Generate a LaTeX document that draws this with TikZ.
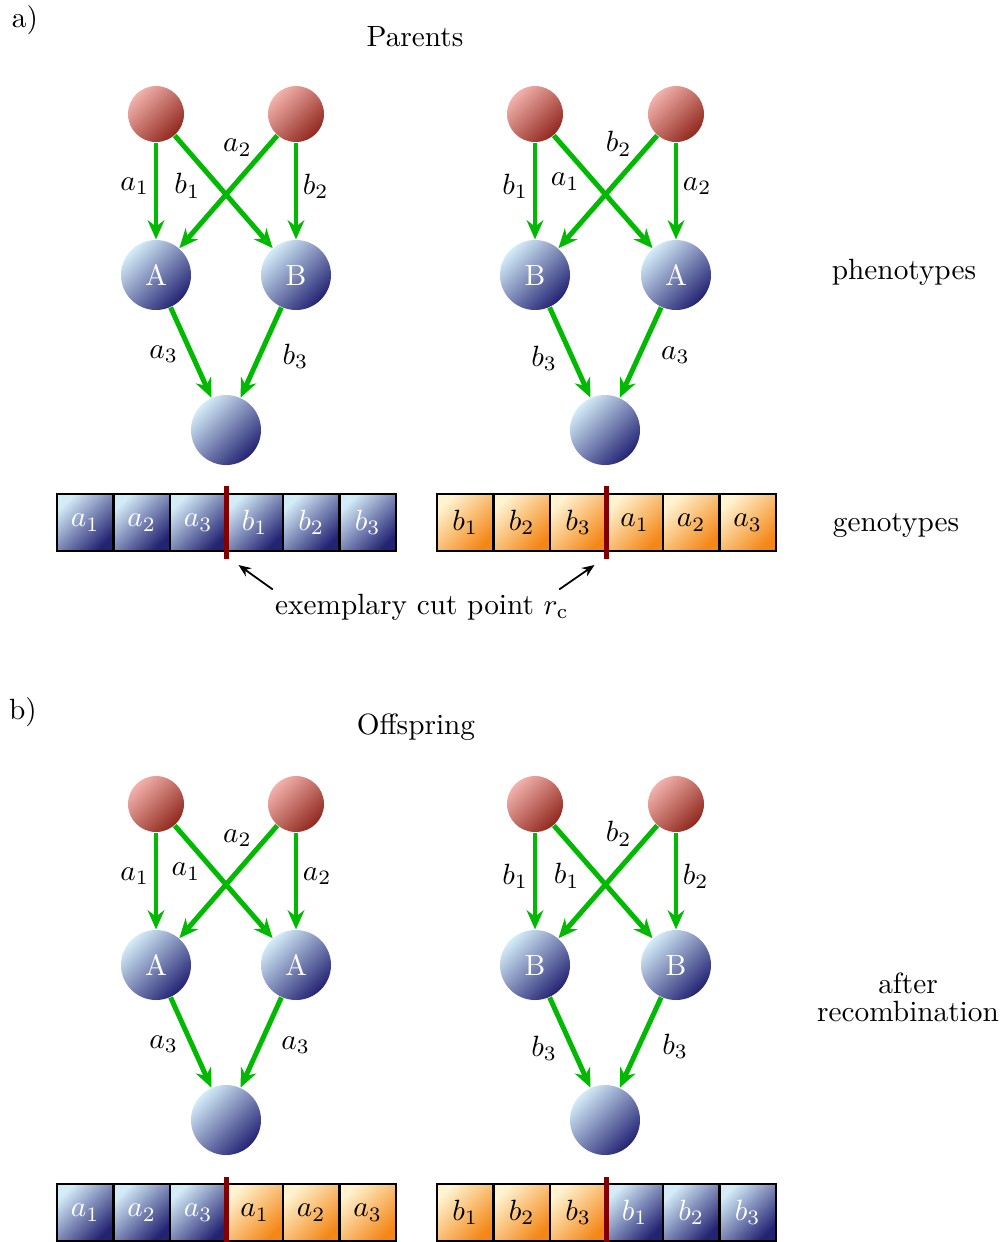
\documentclass[tikz,border=0pt]{standalone}
\usepackage{amsmath,amssymb}
\usetikzlibrary{arrows.meta,positioning}

\definecolor{balllight}{RGB}{212,236,248}
\definecolor{balldark}{RGB}{35,35,115}
\definecolor{redlight}{RGB}{242,178,172}
\definecolor{reddark}{RGB}{145,40,30}
\definecolor{orlight}{RGB}{255,243,208}
\definecolor{ordark}{RGB}{244,135,22}
\definecolor{edgegreen}{RGB}{0,185,0}
\definecolor{cutred}{RGB}{130,0,0}

\tikzset{
  root/.style={circle, minimum size=0.672cm, inner sep=0pt,
    top color=redlight, bottom color=reddark, shading angle=45},
  pheno/.style={circle, minimum size=0.84cm, inner sep=0pt,
    top color=balllight, bottom color=balldark, shading angle=45, text=white},
  gene/.style={draw=edgegreen, line width=1.7pt, -{Stealth[length=2.3mm,width=2mm]}},
  vlab/.style={inner sep=1.5pt},
  xlab/.style={inner sep=0.5pt},
  cell/.style={draw, line width=0.8pt, outer sep=0pt, inner sep=0pt,
    minimum width=0.678cm, minimum height=0.684cm},
  bcell/.style={cell, top color=balllight, bottom color=balldark, shading angle=45, text=white},
  ocell/.style={cell, top color=orlight, bottom color=ordark, shading angle=45},
  cutline/.style={draw=cutred, line width=1.4pt},
  pointer/.style={draw=black, line width=0.6pt, -{Stealth[length=1.5mm,width=1.2mm]}}
}

\begin{document}
\begin{tikzpicture}[auto, x=0.12cm, y=-0.12cm]
    \useasboundingbox (0, 0) rectangle (100.5, 124.2);

    % a) parents
    \node (tag) at (2.5, 2.0) {a)};
    \node (title) at (41.5, 3.7) {Parents};
    \node (ph) at (90.4, 27.2) {phenotypes};
    \node (gt) at (89.6, 52.5) {genotypes};

    \node [root] (r1) at (15.6, 11.4) {};
    \node [root] (r2) at (29.6, 11.4) {};
    \node [pheno] (m1) at (15.6, 27.5) {A};
    \node [pheno] (m2) at (29.6, 27.5) {B};
    \node [pheno] (c) at (22.6, 43.0) {};
    \draw [gene] (r1) to node [vlab, swap, pos=0.45] {$a_1$} (m1);
    \draw [gene] (r1) to node [xlab, swap, pos=0.3] {$b_1$} (m2);
    \draw [gene] (r2) to node [xlab, swap, pos=0.22] {$a_2$} (m1);
    \draw [gene] (r2) to node [vlab, pos=0.45] {$b_2$} (m2);
    \draw [gene] (m1) to node [vlab, swap, pos=0.35] {$a_3$} (c);
    \draw [gene] (m2) to node [pos=0.27] {$b_3$} (c);

    \node [root] (r1) at (53.5, 11.4) {};
    \node [root] (r2) at (67.6, 11.4) {};
    \node [pheno] (m1) at (53.5, 27.5) {B};
    \node [pheno] (m2) at (67.6, 27.5) {A};
    \node [pheno] (c) at (60.5, 43.0) {};
    \draw [gene] (r1) to node [vlab, swap, pos=0.45] {$b_1$} (m1);
    \draw [gene] (r1) to node [xlab, swap, pos=0.3] {$a_1$} (m2);
    \draw [gene] (r2) to node [xlab, swap, pos=0.22] {$b_2$} (m1);
    \draw [gene] (r2) to node [vlab, pos=0.45] {$a_2$} (m2);
    \draw [gene] (m1) to node [vlab, swap, pos=0.35] {$b_3$} (c);
    \draw [gene] (m2) to node [pos=0.3] {$a_3$} (c);

    \node [bcell] (g1) at (8.525, 52.25) {$a_1$};
    \node [bcell, right=0pt of g1] (g2) {$a_2$};
    \node [bcell, right=0pt of g2] (g3) {$a_3$};
    \node [bcell, right=0pt of g3] (g4) {$b_1$};
    \node [bcell, right=0pt of g4] (g5) {$b_2$};
    \node [bcell, right=0pt of g5] (g6) {$b_3$};
    \draw [cutline] ([yshift=1mm]g3.north east) -- ([yshift=-0.9mm]g3.south east);
    \coordinate (ptA) at ([shift={(1.2, 1.4)}]g3.south east);

    \node [ocell] (g1) at (46.525, 52.25) {$b_1$};
    \node [ocell, right=0pt of g1] (g2) {$b_2$};
    \node [ocell, right=0pt of g2] (g3) {$b_3$};
    \node [ocell, right=0pt of g3] (g4) {$a_1$};
    \node [ocell, right=0pt of g4] (g5) {$a_2$};
    \node [ocell, right=0pt of g5] (g6) {$a_3$};
    \draw [cutline] ([yshift=1mm]g3.north east) -- ([yshift=-0.9mm]g3.south east);
    \coordinate (ptB) at ([shift={(-1.2, 1.4)}]g3.south east);

    \node (cut) at (42.2, 60.7) {exemplary cut point $r_{\mathrm{c}}$};
    \draw [pointer] ([shift={(0.8, 0.6)}]cut.north west) -- (ptA);
    \draw [pointer] ([shift={(-2.0, 0.6)}]cut.north east) -- (ptB);

    % b) offspring
    \node (tag) at (2.3, 71.2) {b)};
    \node (title) at (41.6, 72.7) {Offspring};
    \node [align=center] (rec) at (90.8, 99.7) {after\\[-2.4pt]recombination};

    \node [root] (r1) at (15.6, 80.4) {};
    \node [root] (r2) at (29.6, 80.4) {};
    \node [pheno] (m1) at (15.6, 96.5) {A};
    \node [pheno] (m2) at (29.6, 96.5) {A};
    \node [pheno] (c) at (22.6, 112.0) {};
    \draw [gene] (r1) to node [vlab, swap, pos=0.45] {$a_1$} (m1);
    \draw [gene] (r1) to node [xlab, swap, pos=0.3] {$a_1$} (m2);
    \draw [gene] (r2) to node [xlab, swap, pos=0.22] {$a_2$} (m1);
    \draw [gene] (r2) to node [vlab, pos=0.45] {$a_2$} (m2);
    \draw [gene] (m1) to node [vlab, swap, pos=0.35] {$a_3$} (c);
    \draw [gene] (m2) to node [pos=0.3] {$a_3$} (c);

    \node [root] (r1) at (53.5, 80.4) {};
    \node [root] (r2) at (67.6, 80.4) {};
    \node [pheno] (m1) at (53.5, 96.5) {B};
    \node [pheno] (m2) at (67.6, 96.5) {B};
    \node [pheno] (c) at (60.5, 112.0) {};
    \draw [gene] (r1) to node [vlab, swap, pos=0.45] {$b_1$} (m1);
    \draw [gene] (r1) to node [xlab, swap, pos=0.3] {$b_1$} (m2);
    \draw [gene] (r2) to node [xlab, swap, pos=0.22] {$b_2$} (m1);
    \draw [gene] (r2) to node [vlab, pos=0.45] {$b_2$} (m2);
    \draw [gene] (m1) to node [vlab, swap, pos=0.35] {$b_3$} (c);
    \draw [gene] (m2) to node [pos=0.27] {$b_3$} (c);

    \node [bcell] (g1) at (8.525, 121.25) {$a_1$};
    \node [bcell, right=0pt of g1] (g2) {$a_2$};
    \node [bcell, right=0pt of g2] (g3) {$a_3$};
    \node [ocell, right=0pt of g3] (g4) {$a_1$};
    \node [ocell, right=0pt of g4] (g5) {$a_2$};
    \node [ocell, right=0pt of g5] (g6) {$a_3$};
    \draw [cutline] ([yshift=0.8mm]g3.north east) -- ([yshift=-0.9mm]g3.south east);

    \node [ocell] (g1) at (46.525, 121.25) {$b_1$};
    \node [ocell, right=0pt of g1] (g2) {$b_2$};
    \node [ocell, right=0pt of g2] (g3) {$b_3$};
    \node [bcell, right=0pt of g3] (g4) {$b_1$};
    \node [bcell, right=0pt of g4] (g5) {$b_2$};
    \node [bcell, right=0pt of g5] (g6) {$b_3$};
    \draw [cutline] ([yshift=0.8mm]g3.north east) -- ([yshift=-0.9mm]g3.south east);
  \end{tikzpicture}
\end{document}
